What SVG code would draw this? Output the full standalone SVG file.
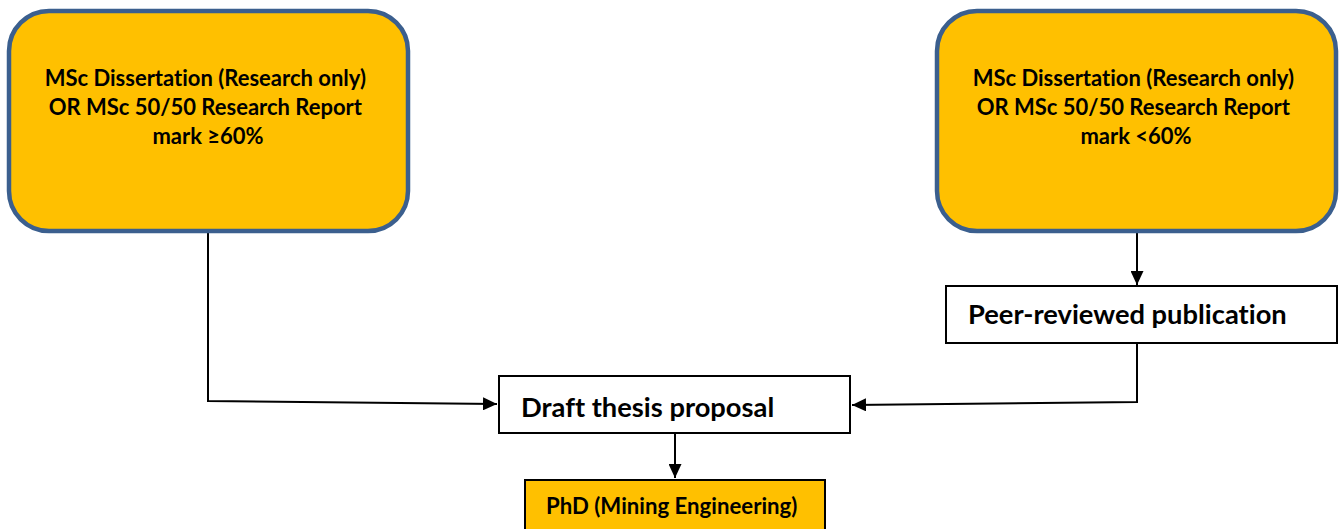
<svg xmlns="http://www.w3.org/2000/svg" width="1339" height="529" viewBox="0 0 1339 529">
<defs>
<style>
.big{fill:#FFC000;stroke:#3B5F8E;stroke-width:4.5}
.box{fill:#fff;stroke:#000;stroke-width:2}
.phd{fill:#FFC000;stroke:#000;stroke-width:2}
.t{font-family:Lato,"Liberation Sans",sans-serif;font-weight:bold;fill:#000;font-variant-ligatures:none}
.conn{fill:none;stroke:#000;stroke-width:2}
</style>
<marker id="ah" viewBox="0 0 14 13" refX="14" refY="6.5" markerWidth="14" markerHeight="13" markerUnits="userSpaceOnUse" orient="auto">
<path d="M0,0 L14,6.5 L0,13 Z" fill="#000"/>
</marker>
</defs>
<g id="connectors">
<path class="conn" d="M208,232 L208,401 L497,404" marker-end="url(#ah)"/>
<path class="conn" d="M1137,232 L1137,285" marker-end="url(#ah)"/>
<path class="conn" d="M1137,343 L1137,402 L852,405" marker-end="url(#ah)"/>
<path class="conn" d="M675,433 L675,478" marker-end="url(#ah)"/>
</g>
<g id="node-left">
<rect class="big" x="9" y="11" width="399" height="220" rx="40"/>
<text class="t" font-size="22" text-anchor="middle">
<tspan x="208" y="86">MSc Dissertation (Research only)</tspan>
<tspan x="208" y="115">OR MSc 50/50 Research Report</tspan>
<tspan x="208" y="144">mark ≥60%</tspan>
</text>
</g>
<g id="node-right">
<rect class="big" x="937" y="11" width="399" height="220" rx="40"/>
<text class="t" font-size="22" text-anchor="middle">
<tspan x="1136" y="86">MSc Dissertation (Research only)</tspan>
<tspan x="1136" y="115">OR MSc 50/50 Research Report</tspan>
<tspan x="1136" y="144">mark &lt;60%</tspan>
</text>
</g>
<g id="node-peer">
<rect class="box" x="946" y="286" width="391" height="57"/>
<text class="t" font-size="27.3" x="968" y="324">Peer-reviewed publication</text>
</g>
<g id="node-draft">
<rect class="box" x="499" y="376" width="351" height="57"/>
<text class="t" font-size="27.3" x="521" y="417">Draft thesis proposal</text>
</g>
<g id="node-phd">
<rect class="phd" x="525" y="480" width="300" height="60"/>
<text class="t" font-size="22.2" x="546" y="514">PhD (Mining Engineering)</text>
</g>
</svg>
